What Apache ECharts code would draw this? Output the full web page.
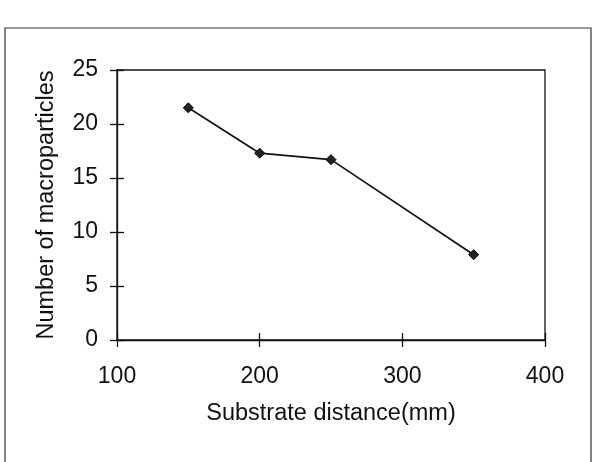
<!DOCTYPE html>
<html>
<head>
<meta charset="utf-8">
<script src="https://cdn.jsdelivr.net/npm/echarts@6/dist/echarts.min.js"></script>
<style>
  html, body { margin: 0; padding: 0; background: #fff; }
  #chart { width: 601px; height: 462px; }
</style>
</head>
<body>
<div id="chart"></div>
<script>
// substrate distance (mm) and macroparticle count
var distance = [150, 200, 250, 350]
var particles = [21.5, 17.3, 16.7, 7.9]

var xName = 'Substrate distance(mm)'
var yName = 'Number of macroparticles'

var font = 'Liberation Sans, Arial, sans-serif'
var ink = '#111'

var gridBox = { left: 117, top: 70, right: 56, bottom: 122 }

var points = distance.map(function (d, i) { return [d, particles[i]] })

var chart = echarts.init(document.getElementById('chart'), null, { renderer: 'canvas' })

// second grid sits on top of the first one only to draw the inner half of each tick
chart.setOption({
  backgroundColor: '#fff',
  animation: false,
  graphic: [{
    type: 'rect',
    shape: { x: 5, y: 28, width: 586, height: 460 },
    style: { fill: 'none', stroke: '#333', lineWidth: 1.2 },
    silent: true
  }],
  grid: [
    Object.assign({ show: true, borderColor: ink, borderWidth: 1.3, backgroundColor: 'transparent' }, gridBox),
    Object.assign({ show: false }, gridBox)
  ],
  xAxis: [
    {
      type: 'value', gridIndex: 0,
      min: 100, max: 400, interval: 100,
      name: xName, nameLocation: 'middle', nameGap: 62,
      nameTextStyle: { fontFamily: font, fontSize: 23.5, color: ink },
      axisLine: { show: true, onZero: false, lineStyle: { color: ink, width: 1.3 } },
      axisTick: { show: true, inside: false, length: 7, lineStyle: { color: ink, width: 1.3 } },
      axisLabel: { margin: 25, fontFamily: font, fontSize: 23, color: ink },
      splitLine: { show: false }
    },
    {
      type: 'value', gridIndex: 1,
      min: 100, max: 400, interval: 100,
      axisLine: { show: false, onZero: false },
      axisTick: { show: true, inside: true, length: 7, lineStyle: { color: ink, width: 1.3 } },
      axisLabel: { show: false },
      splitLine: { show: false }
    }
  ],
  yAxis: [
    {
      type: 'value', gridIndex: 0,
      min: 0, max: 25, interval: 5,
      name: yName, nameLocation: 'middle', nameGap: 58,
      nameTextStyle: { fontFamily: font, fontSize: 23.5, color: ink },
      axisLine: { show: true, onZero: false, lineStyle: { color: ink, width: 1.3 } },
      axisTick: { show: true, inside: false, length: 7, lineStyle: { color: ink, width: 1.3 } },
      axisLabel: { margin: 19, fontFamily: font, fontSize: 23, color: ink },
      splitLine: { show: false }
    },
    {
      type: 'value', gridIndex: 1,
      min: 0, max: 25, interval: 5,
      axisLine: { show: false, onZero: false },
      axisTick: { show: true, inside: true, length: 7, lineStyle: { color: ink, width: 1.3 } },
      axisLabel: { show: false },
      splitLine: { show: false }
    }
  ],
  series: [{
    type: 'line',
    xAxisIndex: 0, yAxisIndex: 0,
    data: points,
    symbol: 'diamond',
    symbolSize: 10,
    lineStyle: { color: ink, width: 1.7 },
    itemStyle: { color: '#222', borderColor: '#000', borderWidth: 1 }
  }]
})
</script>
</body>
</html>
